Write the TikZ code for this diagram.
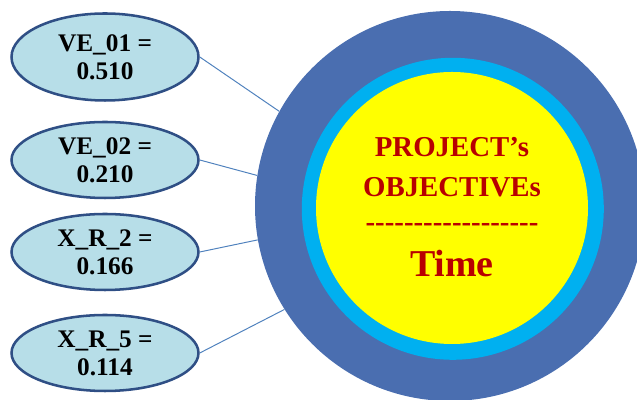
\documentclass[tikz,border=0pt]{standalone}
\usepackage{fontspec}
\setmainfont{Liberation Serif}
\usepackage{tikz}
\usetikzlibrary{shapes.geometric}
\usetikzlibrary{positioning}

\definecolor{ringdark}{RGB}{74,110,176}
\definecolor{ringlight}{RGB}{0,176,240}
\definecolor{coreyellow}{RGB}{255,255,0}
\definecolor{titlered}{RGB}{184,0,0}
\definecolor{varfill}{RGB}{183,222,232}
\definecolor{varedge}{RGB}{47,79,133}
\definecolor{linkblue}{RGB}{79,129,189}

\begin{document}
\begin{tikzpicture}[
    varnode/.style={ellipse, draw=varedge, line width=1.8pt, fill=varfill,
        minimum width=4.675cm, minimum height=1.9cm, inner sep=0pt,
        align=center, font=\fontsize{18}{20}\selectfont\bfseries},
    link/.style={draw=linkblue, line width=0.7pt},
    ringnode/.style={circle, inner sep=0pt},
    titletext/.style={anchor=base, text=titlered, font=\fontsize{20.5}{24}\selectfont\bfseries}
]
    \useasboundingbox (0, 0) rectangle (15.925, 10);

    % Objective rings
    \node[ringnode, fill=ringdark, minimum size=9.75cm] (outer) at (11.25, 4.85) {};
    \node[ringnode, fill=ringlight, minimum size=7.55cm] (ring) at (11.32, 4.78) {};
    \node[ringnode, fill=coreyellow, minimum size=6.8cm] (core) at (11.3, 4.8) {};

    % Objective text
    \node[titletext] (proj) at (11.3, 6.075) {PROJECT’s};
    \node[titletext] (obj) at (11.3, 5.075) {OBJECTIVEs};
    \node[titletext] (sep) at (11.3, 4.2) {-{}-{}-{}-{}-{}-{}-{}-{}-{}-{}-{}-{}-{}-{}-{}-{}-{}-{}};
    \node[titletext, font=\fontsize{27}{30}\selectfont\bfseries] (time) at (11.3, 3.075) {Time};

    % Variables
    \node[varnode, minimum height=2.175cm] (ve1) at (2.625, 8.575) {VE\_01 =\\0.510};
    \node[varnode] (ve2) at (2.625, 6.0) {VE\_02 =\\0.210};
    \node[varnode] (xr2) at (2.625, 3.7) {X\_R\_2 =\\0.166};
    \node[varnode] (xr5) at (2.625, 1.175) {X\_R\_5 =\\0.114};

    % Links to the rings
    \draw[link] (ve1.east) -- (outer.151.6);
    \draw[link] (ve2.east) -- (outer.171.1);
    \draw[link] (xr2.east) -- (outer.190.5);
    \draw[link] (xr5.east) -- (outer.212);
\end{tikzpicture}
\end{document}
